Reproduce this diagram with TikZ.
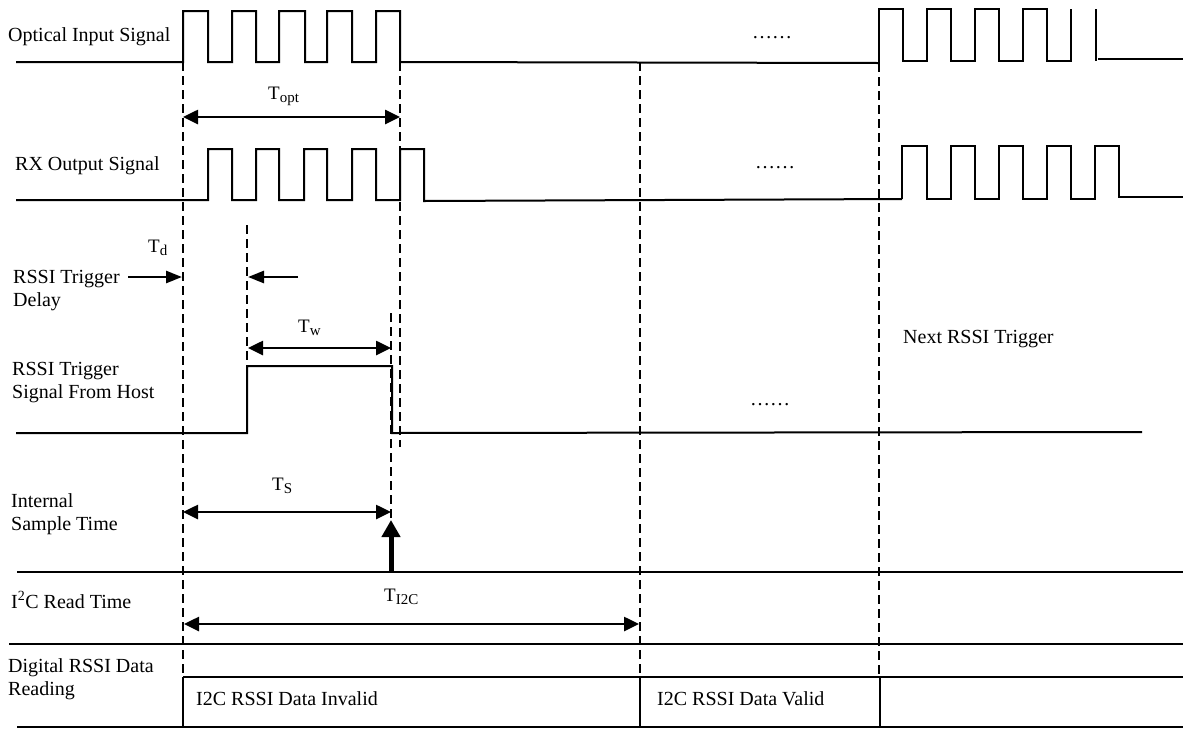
\documentclass[tikz,border=0pt]{standalone}
\usepackage{fontspec}
\setmainfont{Liberation Serif}
\usetikzlibrary{arrows.meta}
\newcommand{\Tsub}[1]{T\raisebox{-3pt}{\fontsize{15}{15}\selectfont #1}}
\begin{document}
\begin{tikzpicture}[x=1pt,y=-1pt,
  wave/.style={line width=2pt, line join=miter},
  guide/.style={line width=1.2pt, dash pattern=on 9pt off 5pt},
  rule/.style={line width=1.8pt},
  dim/.style={line width=2.6pt, {Triangle[length=15pt,width=14pt]}-{Triangle[length=15pt,width=14pt]}},
  single/.style={line width=2.6pt, -{Triangle[length=16pt,width=12pt]}},
  lbl/.style={anchor=base west, inner sep=0pt, font=\fontsize{20}{23}\selectfont, align=left},
  tl/.style={anchor=base west, inner sep=0pt, font=\fontsize{19}{19}\selectfont},
  dotsnode/.style={anchor=base, inner sep=0pt, font=\fontsize{20}{23}\selectfont}]
\useasboundingbox (0,0) rectangle (1183,729);
\fill[white] (0,0) rectangle (1183,729);

% ---------- labels (base = baseline of last line) ----------
\node[lbl] (l1) at (8,41) {Optical Input Signal};
\node[lbl] (l2) at (15,170) {RX Output Signal};
\node[lbl] (l3) at (13,306) {RSSI Trigger\\Delay};
\node[lbl] (l4) at (12,398) {RSSI Trigger\\Signal From Host};
\node[lbl] (l5) at (11,530) {Internal\\Sample Time};
\node[lbl] (l6) at (11,608) {I\textsuperscript{2}C Read Time};
\node[lbl] (l7) at (8,695) {Digital RSSI Data\\Reading};
\node[lbl] (l8) at (196,705) {I2C RSSI Data Invalid};
\node[lbl] (l9) at (657,705) {I2C RSSI Data Valid};
\node[lbl] (l10) at (903,343) {Next RSSI Trigger};

\node[dotsnode] (d1) at (772,38) {……};
\node[dotsnode] (d2) at (775,168) {……};
\node[dotsnode] (d3) at (770,405) {……};

% ---------- waveforms ----------
% optical input
\draw[wave] (16,62) -| (183,11) -| (208,62) -| (232,11) -| (256,62) -| (279,11)
  -| (305,62) -| (327,11) -| (352,62) -| (376,11) -| (400,62) -- (879,63);
\draw[wave] (879,63) -- (879,9) -| (903,61) -| (927,9) -| (951,61) -| (975,9)
  -| (999,61) -| (1023,9) -| (1047,61) -| (1071,9);
\draw[wave] (1096,9) -- (1096,61);
\draw[wave] (1098,59) -- (1183,59);
% RX output
\draw[wave] (16,200) -| (208,149) -| (232,200) -| (256,149) -| (279,200) -| (304,149)
  -| (327,200) -| (352,149) -| (376,200) -| (400,149) -| (424,201) -- (902,199);
\draw[wave] (902,199) -- (902,146) -| (927,199) -| (951,146) -| (975,199) -| (999,146)
  -| (1023,199) -| (1047,146) -| (1071,199) -| (1095,146) -| (1119,197) -- (1183,197);
% RSSI trigger from host
\draw[wave] (16,433) -| (247,366) -| (392,433) -- (1142,432);

% ---------- guide lines ----------
\draw[guide] (183,62) -- (183,677);
\draw[guide] (400,62) -- (400,447);
\draw[guide] (640,62) -- (640,677);
\draw[guide] (879,63) -- (879,677);
\draw[guide] (247,225) -- (247,366);
\draw[guide] (391,313) -- (391,520);

% ---------- row rules ----------
\draw[rule] (17,572) -- (1183,572);
\draw[rule] (9,644) -- (1183,644);
\draw[rule] (183,677) -- (1183,677);
\draw[rule] (17,727) -- (1183,727);
\draw[rule] (183,677) -- (183,727);
\draw[rule] (640,677) -- (640,727);
\draw[rule] (880,677) -- (880,727);

% ---------- dimension labels ----------
\node[tl] (topt) at (268,99) {\Tsub{opt}};
\node[tl] (td) at (148,252) {\Tsub{d}};
\node[tl] (tw) at (298,332) {\Tsub{w}};
\node[tl] (ts) at (272,490) {\Tsub{S}};
\node[tl] (ti2c) at (384,601) {\Tsub{I2C}};

% ---------- dimension arrows ----------
\coordinate (optL) at (183,117); \coordinate (optR) at (400,117);
\draw[dim] (optL) -- (optR);
\coordinate (tdA) at (128,277); \coordinate (tdB) at (182,277);
\draw[single] (tdA) -- (tdB);
\coordinate (tdC) at (298,277); \coordinate (tdD) at (248,277);
\draw[single] (tdC) -- (tdD);
\coordinate (twL) at (248,348); \coordinate (twR) at (391,348);
\draw[dim] (twL) -- (twR);
\coordinate (tsL) at (183,512); \coordinate (tsR) at (391,512);
\draw[dim] (tsL) -- (tsR);
\coordinate (upA) at (391,572); \coordinate (upB) at (391,520);
\draw[line width=5pt, -{Triangle[length=17pt,width=18pt]}] (upA) -- (upB);
\coordinate (i2cL) at (184,624); \coordinate (i2cR) at (639,624);
\draw[dim] (i2cL) -- (i2cR);
\end{tikzpicture}
\end{document}
